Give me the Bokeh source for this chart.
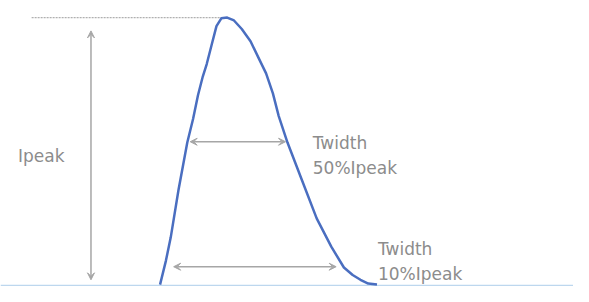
from bokeh.plotting import figure
from bokeh.models import Range1d, Arrow, VeeHead, Label
from bokeh.embed import file_html
from bokeh.resources import INLINE

# Pulse curve: time (arbitrary units) vs current as fraction of Ipeak
curve_t = [164, 170, 175, 183, 192, 198, 203, 208, 212, 217, 222, 227, 233, 240, 248,
           257, 265, 273, 280, 286, 295, 310, 325, 340, 353, 362, 370, 378, 387]
curve_i = [0.000, 0.089, 0.177, 0.355, 0.532, 0.621, 0.709, 0.780, 0.826, 0.897,
           0.968, 0.997, 1.000, 0.989, 0.957, 0.911, 0.851, 0.791, 0.716, 0.631,
           0.532, 0.390, 0.248, 0.142, 0.064, 0.036, 0.018, 0.004, 0.000]

baseline_t = [0, 589]
baseline_i = [-0.004, -0.004]

peak_t = [32, 230]
peak_i = [1.0, 1.0]

ipeak_arrow = (93, 0.018, 0.95)          # x, y_start, y_end
w50_arrow = (195, 293, 0.535)            # x_start, x_end, y
w10_arrow = (178, 345, 0.067)

labels = [
    ("Ipeak", 18, 0.483),
    ("Twidth", 321, 0.531),
    ("50%Ipeak", 321, 0.435),
    ("Twidth", 388, 0.132),
    ("10%Ipeak", 388, 0.038),
]

p = figure(width=573, height=286, output_backend="svg", toolbar_location=None,
           x_range=Range1d(0, 589), y_range=Range1d(-0.0071, 1.0638), min_border=0)
p.axis.visible = False
p.grid.visible = False
p.outline_line_color = None

gray = "#a6a6a6"

p.line(baseline_t, baseline_i, line_color="#bdd7ee", line_width=2)
p.line(peak_t, peak_i, line_color="#b0b0b0", line_width=1.2, line_dash="2 1")
p.line(curve_t, curve_i, line_color="#4a6ec0", line_width=2.5, line_join="round")

def head():
    return VeeHead(size=7, line_color=gray, fill_color=gray, line_width=1)

p.add_layout(Arrow(start=head(), end=head(), x_start=ipeak_arrow[0], y_start=ipeak_arrow[1],
                   x_end=ipeak_arrow[0], y_end=ipeak_arrow[2], line_color=gray, line_width=1.5))
p.add_layout(Arrow(start=head(), end=head(), x_start=w50_arrow[0], y_start=w50_arrow[2],
                   x_end=w50_arrow[1], y_end=w50_arrow[2], line_color=gray, line_width=1.5))
p.add_layout(Arrow(start=head(), end=head(), x_start=w10_arrow[0], y_start=w10_arrow[2],
                   x_end=w10_arrow[1], y_end=w10_arrow[2], line_color=gray, line_width=1.5))

for txt, x, y in labels:
    p.add_layout(Label(x=x, y=y, text=txt, text_font="DejaVu Sans", text_font_size="17px",
                       text_color="#8c8c8c", text_baseline="middle", text_align="left"))

open("out.html", "w").write(file_html(p, INLINE))
